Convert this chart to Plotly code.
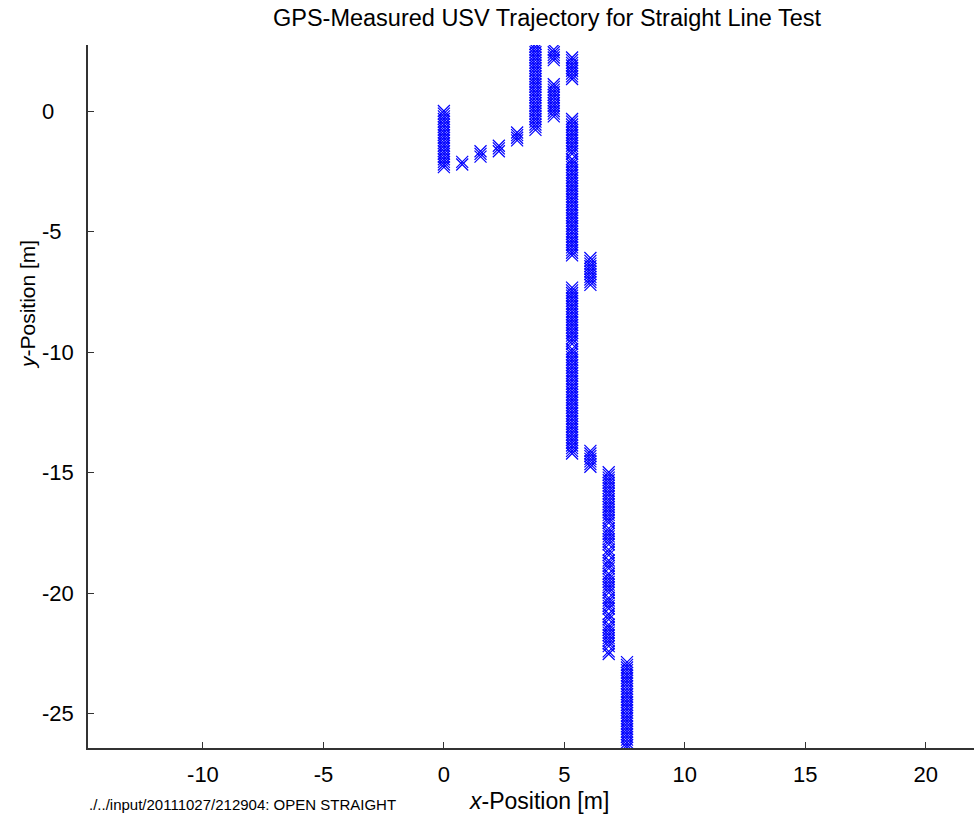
import plotly.graph_objects as go

# GPS-measured positions, grouped in runs of constant x (x in m, y in m)
seg_x = [0.00, 0.76, 1.52, 2.28, 3.04, 3.80, 4.56, 4.56, 5.32, 5.32, 6.08, 5.32, 6.08, 6.84, 7.60]
seg_y = [
    [0, -0.11, -0.22, -0.33, -0.44, -0.56, -0.67, -0.78, -0.89, -1.00, -1.11, -1.22, -1.33, -1.44,
     -1.55, -1.67, -1.78, -1.89, -2.00, -2.11, -2.22, -2.33],
    [-2.11, -2.22],
    [-1.67, -1.78, -1.89],
    [-1.44, -1.55, -1.67],
    [-0.89, -1.00, -1.11, -1.22],
    [2.78, 2.66, 2.55, 2.44, 2.33, 2.22, 2.11, 2.00, 1.89, 1.78, 1.67, 1.55, 1.44, 1.33, 1.22, 1.11,
     1.00, 0.89, 0.78, 0.67, 0.56, 0.44, 0.33, 0.22, 0.11, 0, -0.11, -0.22, -0.33, -0.44, -0.56,
     -0.67, -0.78],
    [2.55, 2.44, 2.33, 2.22, 2.11],
    [1.11, 1.00, 0.89, 0.78, 0.67, 0.56, 0.44, 0.33, 0.22, 0.11, 0, -0.11, -0.22],
    [2.22, 2.11, 2.00, 1.89, 1.78, 1.67, 1.55, 1.44, 1.33],
    [-0.33, -0.44, -0.56, -0.67, -0.78, -0.89, -1.00, -1.11, -1.22, -1.33, -1.44, -1.55, -1.67,
     -1.78, -2.00, -2.11, -2.22, -2.33, -2.44, -2.55, -2.66, -2.78, -2.89, -3.00, -3.11, -3.22,
     -3.33, -3.44, -3.55, -3.66, -3.77, -3.89, -4.00, -4.11, -4.22, -4.33, -4.44, -4.55, -4.66,
     -4.77, -4.88, -5.00, -5.11, -5.22, -5.33, -5.44, -5.55, -5.66, -5.77, -5.88, -5.99],
    [-6.10, -6.22, -6.33, -6.44, -6.55, -6.66, -6.77, -6.88, -6.99, -7.10, -7.21],
    [-7.33, -7.44, -7.55, -7.66, -7.77, -7.88, -7.99, -8.10, -8.21, -8.33, -8.44, -8.55, -8.66,
     -8.77, -8.88, -8.99, -9.10, -9.21, -9.32, -9.44, -9.55, -9.66, -9.88, -9.99, -10.10, -10.21,
     -10.32, -10.43, -10.55, -10.66, -10.77, -10.88, -10.99, -11.10, -11.21, -11.32, -11.43,
     -11.54, -11.66, -11.77, -11.88, -11.99, -12.10, -12.21, -12.32, -12.43, -12.54, -12.65,
     -12.77, -12.88, -12.99, -13.10, -13.21, -13.32, -13.43, -13.54, -13.65, -13.76, -13.88,
     -13.99, -14.10, -14.21],
    [-14.10, -14.21, -14.32, -14.43, -14.54, -14.65, -14.76],
    [-14.99, -15.10, -15.21, -15.32, -15.43, -15.54, -15.65, -15.76, -15.87, -15.98, -16.10,
     -16.21, -16.32, -16.43, -16.54, -16.65, -16.76, -16.87, -16.98, -17.09, -17.32, -17.43,
     -17.54, -17.65, -17.76, -17.87, -17.98, -18.20, -18.31, -18.43, -18.65, -18.76, -18.87,
     -18.98, -19.20, -19.31, -19.42, -19.54, -19.65, -19.76, -19.87, -19.98, -20.20, -20.31,
     -20.42, -20.53, -20.64, -20.87, -20.98, -21.09, -21.31, -21.42, -21.53, -21.64, -21.75,
     -21.87, -21.98, -22.09, -22.20, -22.42, -22.53],
    [-22.87, -22.98, -23.09, -23.20, -23.31, -23.42, -23.53, -23.64, -23.75, -23.86, -23.98,
     -24.09, -24.20, -24.31, -24.42, -24.53, -24.64, -24.75, -24.86, -24.97, -25.09, -25.20,
     -25.31, -25.42, -25.53, -25.64, -25.75, -25.86, -25.97, -26.08, -26.20, -26.31, -26.42],
]

x_ticks = [-10, -5, 0, 5, 10, 15, 20]
x_tick_labels = ["-10", "-5", "0", "5", "10", "15", "20"]
y_ticks = [0, -5, -10, -15, -20, -25]
y_tick_labels = ["0", "-5", "-10", "-15", "-20", "-25"]

xs, ys = [], []
for xv, yl in zip(seg_x, seg_y):
    for yv in yl:
        xs.append(xv)
        ys.append(yv)

FONT = "Liberation Sans, Arial, sans-serif"
W, H = 974, 819
L, R, T, B = 88, 0, 45, 71
PW = W - L - R
PH = H - T - B

def px_x(p):
    return (p - L) / PW

def px_y(p):
    return 1 - (p - T) / PH

fig = go.Figure()
fig.add_trace(go.Scatter(
    x=xs, y=ys, mode="markers",
    marker=dict(symbol="x-thin", size=12, color="#0000ff",
                line=dict(width=1.2, color="#0000ff")),
    showlegend=False,
))

fig.update_layout(
    width=W, height=H,
    margin=dict(l=L, r=R, t=T, b=B),
    paper_bgcolor="white", plot_bgcolor="white",
    font=dict(family=FONT, size=22, color="black"),
    title=dict(text="GPS-Measured USV Trajectory for Straight Line Test",
               x=547 / W, xanchor="center", xref="container",
               y=1 - 18 / H, yanchor="middle", yref="container",
               font=dict(family=FONT, size=23.5, color="black")),
    xaxis=dict(range=[-14.77, 22.0], tickvals=x_ticks, ticktext=x_tick_labels,
               ticks="inside", ticklen=6,
               tickcolor="#333333", tickwidth=1, showgrid=False, zeroline=False,
               showline=True, linecolor="#333333", linewidth=1.5,
               ticklabelstandoff=6, tickfont=dict(size=22, family=FONT)),
    yaxis=dict(range=[-26.43, 2.74], tickvals=y_ticks, ticks="inside", ticklen=6,
               tickcolor="#333333", tickwidth=1, showgrid=False, zeroline=False,
               showline=True, linecolor="#333333", linewidth=1.5,
               showticklabels=False),
)

# y tick labels (left-aligned as in the reference)
for v, t in zip(y_ticks, y_tick_labels):
    fig.add_annotation(x=px_x(40), xref="paper", y=v, yref="y", text=t,
                       showarrow=False, xanchor="left", yanchor="middle",
                       font=dict(size=22, family=FONT))

fig.add_annotation(x=px_x(539), xref="paper", y=px_y(801), yref="paper",
                   text="<i>x</i>-Position [m]", showarrow=False,
                   xanchor="center", yanchor="middle", font=dict(size=23, family=FONT))
fig.add_annotation(x=px_x(27), xref="paper", y=px_y(305), yref="paper",
                   text="<i>y</i>-Position [m]", showarrow=False, textangle=-90,
                   xanchor="center", yanchor="middle", font=dict(size=21, family=FONT))
fig.add_annotation(x=px_x(87), xref="paper", y=px_y(804), yref="paper",
                   text="./../input/20111027/212904: OPEN STRAIGHT", showarrow=False,
                   xanchor="left", yanchor="middle", font=dict(size=15, family=FONT))

fig.write_html("out.html")
